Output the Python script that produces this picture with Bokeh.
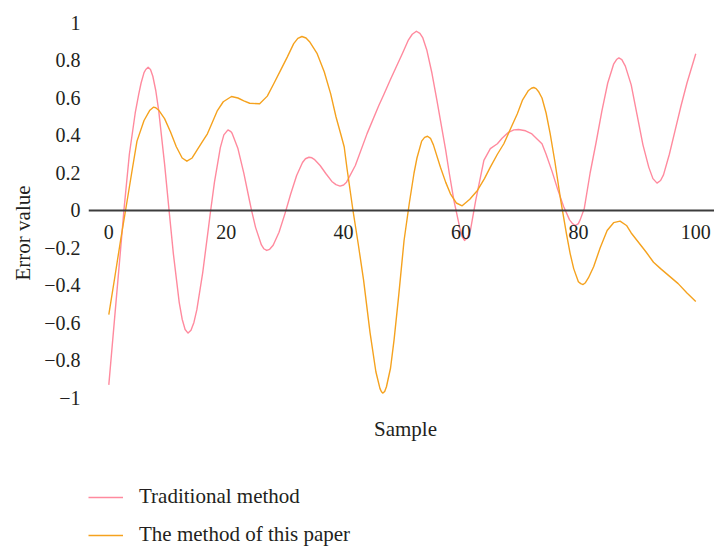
from bokeh.plotting import figure
from bokeh.models import (Range1d, FixedTicker, Legend, LegendItem, Title, Span,
                          Label, CustomJSTickFormatter)
from bokeh.core.properties import value
from bokeh.embed import file_html
from bokeh.resources import INLINE

# ---- data ----
x_ticks = [0, 20, 40, 60, 80, 100]
x_tick_labels = ["0", "20", "40", "60", "80", "100"]
y_ticks = [-1, -0.8, -0.6, -0.4, -0.2, 0, 0.2, 0.4, 0.6, 0.8, 1]

series_names = ["Traditional method", "The method of this paper"]

trad_x = [0, 1, 2, 2.6, 3.5, 4.5, 5.1, 5.5, 6, 6.3,
          6.7, 7.1, 7.5, 8, 8.5, 9.5, 10.3, 11, 12, 12.5,
          13, 13.5, 14, 14.5, 15, 16, 17, 17.3, 18, 19,
          19.6, 20.3, 20.8, 21, 22, 23, 24, 24.3, 25, 26,
          26.4, 26.9, 27.4, 28, 29, 30, 31, 32, 33, 33.5,
          34.1, 34.6, 35, 36, 37, 38, 38.7, 39.4, 40, 40.5,
          42, 44, 46, 46.8, 48, 50, 51, 51.7, 52.4, 53,
          53.5, 54.2, 55, 55.9, 56.5, 57.4, 58, 58.8, 59.9, 60.2,
          60.6, 61.1, 61.6, 62.5, 63.9, 65, 66.2, 67, 68, 69,
          69.8, 71, 72, 73, 73.8, 74.5, 75.5, 76.5, 77.5, 78.5,
          79, 79.5, 80, 80.3, 81, 82, 83, 84, 85, 86,
          86.5, 86.9, 87.4, 88, 89, 90, 91, 92, 92.7, 93.4,
          94, 94.5, 95.5, 96.5, 97.5, 98.5, 100]
trad_err = [-0.93, -0.57, -0.21, 0.01, 0.3, 0.52, 0.62, 0.68, 0.735, 0.752,
            0.764, 0.752, 0.716, 0.64, 0.533, 0.249, -0.01, -0.231, -0.491, -0.58,
            -0.635, -0.654, -0.639, -0.597, -0.529, -0.331, -0.087, -0.012, 0.151, 0.335,
            0.403, 0.43, 0.421, 0.412, 0.33, 0.199, 0.048, 0.003, -0.09, -0.184,
            -0.204, -0.213, -0.207, -0.185, -0.116, -0.018, 0.089, 0.187, 0.256, 0.276,
            0.284, 0.281, 0.273, 0.24, 0.196, 0.155, 0.138, 0.13, 0.136, 0.151,
            0.24, 0.41, 0.56, 0.615, 0.7, 0.836, 0.907, 0.94, 0.956, 0.945,
            0.92, 0.853, 0.74, 0.587, 0.48, 0.32, 0.2, 0.053, -0.107, -0.14,
            -0.16, -0.145, -0.107, 0.053, 0.267, 0.33, 0.356, 0.385, 0.415, 0.43,
            0.432, 0.425, 0.41, 0.38, 0.356, 0.3, 0.21, 0.11, 0.02, -0.05,
            -0.07, -0.08, -0.07, -0.05, 0.01, 0.2, 0.36, 0.53, 0.68, 0.78,
            0.805, 0.814, 0.805, 0.77, 0.67, 0.51, 0.35, 0.23, 0.17, 0.146,
            0.16, 0.19, 0.3, 0.43, 0.56, 0.68, 0.836]

paper_x = [0, 1, 2, 2.85, 4, 4.8, 6, 7, 7.6, 8,
           8.5, 9.5, 10.5, 11.5, 12.5, 13.3, 14.2, 15, 16, 16.8,
           17.5, 18.5, 19.5, 20.9, 22, 23, 24, 25.7, 27, 28.1,
           29.3, 30.4, 31.5, 32.2, 32.9, 33.6, 34.2, 35.5, 36.7, 37.8,
           38.7, 39.5, 40.1, 40.6, 41.6, 42.5, 43.4, 44.5, 45.5, 46.2,
           46.45, 46.7, 47, 47.3, 48, 48.6, 49.4, 50.3, 51.2, 52,
           52.5, 53.3, 53.8, 54.3, 54.8, 55.3, 56.5, 57.4, 58.2, 59.2,
           60.2, 61.5, 62.8, 64, 65, 66.2, 67.3, 68.5, 69.6, 70.5,
           71.5, 72, 72.4, 72.8, 73.2, 73.8, 74.5, 75.2, 76, 77,
           78, 78.6, 79.2, 80, 80.4, 80.8, 81.2, 81.7, 82.6, 83.7,
           84.9, 86, 87.1, 88.2, 89, 90, 91.5, 92.8, 94, 95.5,
           97, 98.5, 100]
paper_err = [-0.555, -0.36, -0.16, 0.0, 0.22, 0.37, 0.48, 0.535, 0.551, 0.548,
             0.535, 0.49, 0.42, 0.34, 0.28, 0.263, 0.28, 0.32, 0.37, 0.409,
             0.46, 0.533, 0.58, 0.608, 0.6, 0.585, 0.572, 0.569, 0.61, 0.676,
             0.75, 0.818, 0.89, 0.918, 0.928, 0.92, 0.9, 0.836, 0.74, 0.622,
             0.5, 0.409, 0.34, 0.22, 0.0, -0.18, -0.37, -0.65, -0.86, -0.95,
             -0.967, -0.974, -0.965, -0.94, -0.84, -0.69, -0.45, -0.16, 0.04, 0.2,
             0.28, 0.37, 0.39, 0.396, 0.385, 0.35, 0.231, 0.15, 0.089, 0.04,
             0.025, 0.06, 0.107, 0.17, 0.231, 0.3, 0.356, 0.44, 0.516, 0.59,
             0.64, 0.652, 0.656, 0.65, 0.635, 0.6, 0.52, 0.409, 0.26, 0.053,
             -0.13, -0.23, -0.31, -0.38, -0.39, -0.395, -0.385, -0.36, -0.3, -0.2,
             -0.107, -0.065, -0.057, -0.08, -0.12, -0.16, -0.22, -0.276, -0.31, -0.35,
             -0.39, -0.44, -0.485]

# ---- style ----
FONT = "Liberation Serif"
TEXT = "#231f20"
PINK = "#ff8a9e"
ORANGE = "#f5a21e"

p = figure(width=714, height=548, output_backend="svg", toolbar_location=None,
           x_range=Range1d(-3.46, 103.19), y_range=Range1d(-1.8027, 1.0133),
           x_axis_location=None,
           min_border_left=88, min_border_right=0, min_border_top=20,
           min_border_bottom=0)
p.outline_line_color = None
p.xgrid.visible = False
p.ygrid.visible = False

# zero line across the plot
p.add_layout(Span(location=0, dimension="width", line_color="#3c3c3c", line_width=2))

r1 = p.line(trad_x, trad_err, line_color=PINK, line_width=1.4, line_join="round")
r2 = p.line(paper_x, paper_err, line_color=ORANGE, line_width=1.4, line_join="round")

# x tick labels sitting under the zero line
p.text(x=x_ticks, y=0, text=x_tick_labels, text_align="center", text_baseline="middle",
       y_offset=22, text_font=value(FONT), text_font_size="20px", text_color=TEXT)

# x axis title
p.add_layout(Label(x=50.54, y=-1.165, text="Sample", text_align="center",
                   text_baseline="middle", text_font=FONT, text_font_size="21px",
                   text_color=TEXT))

yax = p.yaxis[0]
yax.ticker = FixedTicker(ticks=y_ticks)
yax.formatter = CustomJSTickFormatter(code="return (tick < 0 ? '\u2212' : '') + String(Math.abs(tick));")
yax.axis_line_color = None
yax.major_tick_out = 0
yax.major_tick_in = 0
yax.minor_tick_out = 0
yax.minor_tick_in = 0
yax.major_label_standoff = 8
yax.major_label_text_font = FONT
yax.major_label_text_font_size = "20px"
yax.major_label_text_color = TEXT

ytitle = Title(text="Error value", align="left", offset=268, standoff=13,
               text_font=FONT, text_font_size="21px", text_font_style="normal",
               text_color=TEXT)
p.add_layout(ytitle, "left")

legend = Legend(items=[LegendItem(label=series_names[0], renderers=[r1]),
                       LegendItem(label=series_names[1], renderers=[r2])],
                location=(0, 1), orientation="vertical",
                margin=0, padding=0, spacing=13,
                glyph_width=35, glyph_height=24, label_height=24,
                label_standoff=16, label_text_font=FONT,
                label_text_font_size="21px", label_text_color=TEXT,
                border_line_color=None, background_fill_alpha=0)
p.add_layout(legend)

open("out.html", "w").write(file_html(p, INLINE))
